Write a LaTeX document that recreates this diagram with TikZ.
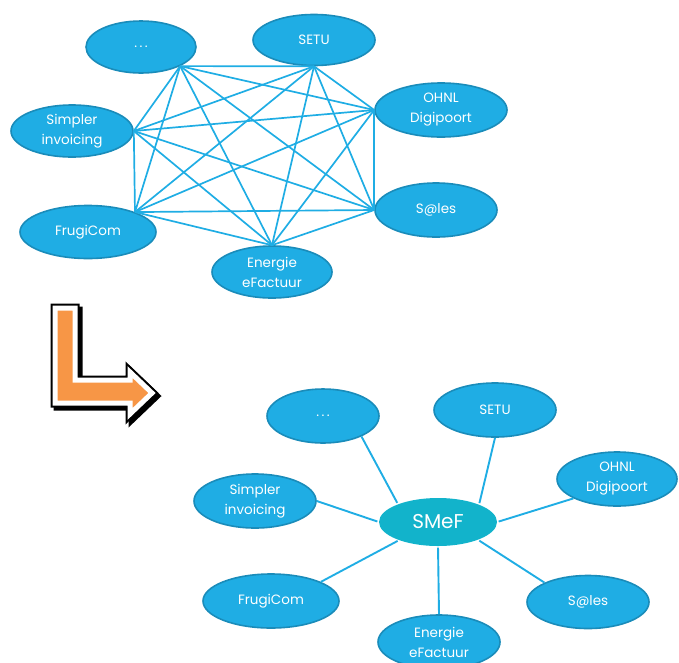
\documentclass[tikz,border=0pt]{standalone}
\usepackage{fontspec}
\setmainfont{Poppins}
\usetikzlibrary{shapes.geometric}
\definecolor{blobfill}{HTML}{1FADE4}
\definecolor{blobline}{HTML}{1A8CBA}
\definecolor{hubfill}{HTML}{12B3CB}
\definecolor{linkcol}{HTML}{1FADE4}
\definecolor{arroworange}{HTML}{F79646}
\newcommand{\etcdots}{.\hspace{2.5pt}.\hspace{2.5pt}.}
\tikzset{
  blob/.style={ellipse, fill=blobfill, draw=blobline, line width=1.6pt, inner sep=0pt,
    text=white, font=\fontsize{13.5}{20}\selectfont, align=center},
  hub/.style={ellipse, fill=hubfill, inner sep=0pt, text=white,
    font=\fontsize{20}{22}\selectfont},
  meshlink/.style={draw=linkcol, line width=1.7pt},
  spoke/.style={draw=linkcol, line width=1.9pt, shorten >=1.5pt},
}
\begin{document}
\begin{tikzpicture}[x=1pt,y=-1pt]
\useasboundingbox (0,0) rectangle (679,662);
% ---------- top mesh ----------
\node[blob, minimum width=110, minimum height=52] (tdots) at (141,47) {\etcdots};
\node[blob, minimum width=122, minimum height=51] (tsetu) at (314,40) {SETU};
\node[blob, minimum width=132, minimum height=54] (tohnl) at (441,110) {OHNL\\Digipoort};
\node[blob, minimum width=122, minimum height=54] (tsales) at (436,210) {S@les};
\node[blob, minimum width=120, minimum height=52] (tener) at (272,272) {Energie\\eFactuur};
\node[blob, minimum width=136, minimum height=53] (tfrugi) at (88,232) {FrugiCom};
\node[blob, minimum width=122, minimum height=52] (tsimp) at (72,131) {Simpler\\invoicing};
\foreach \a/\b in {tdots.-26/tsetu.south, tdots.-26/tohnl.west, tdots.-26/tsales.west,
  tdots.-26/tener.north, tdots.-26/tfrugi.23, tdots.-26/tsimp.east,
  tsetu.south/tohnl.west, tsetu.south/tsales.west, tsetu.south/tener.north,
  tsetu.south/tfrugi.23, tsetu.south/tsimp.east,
  tohnl.west/tsales.west, tohnl.west/tener.north, tohnl.west/tfrugi.23, tohnl.west/tsimp.east,
  tsales.west/tener.north, tsales.west/tfrugi.23, tsales.west/tsimp.east,
  tener.north/tfrugi.23, tener.north/tsimp.east,
  tfrugi.23/tsimp.east}
  \draw[meshlink] (\a) -- (\b);
% ---------- arrow ----------
\def\arrowpath{(55,308) -- (75,308) -- (75,380) -- (130,380) -- (130,372) -- (152,393)
  -- (130,414) -- (130,403) -- (55,403) -- cycle}
\draw[black, line width=9pt, line join=miter, fill=black, shift={(3,3)}] \arrowpath;
\draw[black, line width=9pt, line join=miter, fill=black] \arrowpath;
\draw[white, line width=5pt, line join=miter, fill=arroworange] \arrowpath;
% ---------- bottom star ----------
\node[hub, minimum width=118, minimum height=48] (smef) at (438,522) {SMeF};
\node[blob, minimum width=112, minimum height=54] (bdots) at (323,416) {\etcdots};
\node[blob, minimum width=122, minimum height=54] (bsetu) at (495,410) {SETU};
\node[blob, minimum width=120, minimum height=54] (bohnl) at (617,479) {OHNL\\Digipoort};
\node[blob, minimum width=122, minimum height=54] (bsimp) at (255,501) {Simpler\\invoicing};
\node[blob, minimum width=136, minimum height=54] (bfrugi) at (271,601) {FrugiCom};
\node[blob, minimum width=122, minimum height=54] (bener) at (439,642) {Energie\\eFactuur};
\node[blob, minimum width=122, minimum height=53] (bsales) at (588,602) {S@les};
\draw[spoke] (bdots.-28) -- (smef.156);
\draw[spoke] (bsetu.south) -- (smef.23);
\draw[spoke] (bohnl.-156) -- (smef.east);
\draw[spoke] (bsales.156) -- (smef.-24);
\draw[spoke] (bener.north) -- (smef.south);
\draw[spoke] (bfrugi.21) -- (smef.-155);
\draw[spoke] (bsimp.east) -- (smef.west);
\end{tikzpicture}
\end{document}
